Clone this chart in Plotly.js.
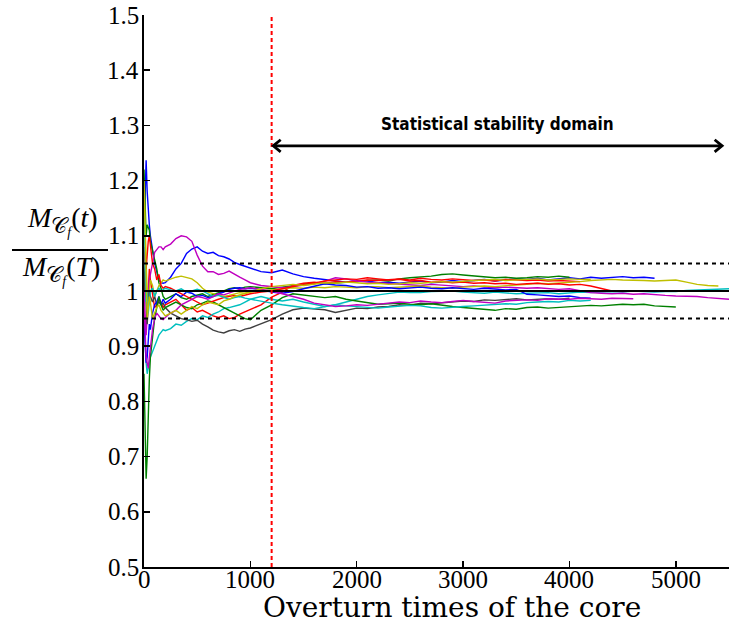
<!DOCTYPE html>
<html><head><meta charset="utf-8">
<script src="https://cdn.plot.ly/plotly-3.0.1.min.js"></script>
<style>html,body{margin:0;padding:0;background:#fff}#chart{width:732px;height:623px}</style>
</head><body><div id="chart"></div>
<script>
// shared time grid (overturn times of the core)
const t = [0,10,20,30,40,50,60,80,100,120,140,160,180,200,250,300,350,400,450,500,550,600,650,700,750,800,850,900,950,1000,
  1100,1200,1300,1400,1500,1600,1700,1800,1900,2000,2100,2200,2300,2400,2500,2600,2700,2800,2900,3000,
  3100,3200,3300,3400,3500,3600,3700,3800,3900,4000,4100,4200,4300,4400,4500,4600,4700,4800,4900,5000,
  5100,5200,5300,5400,5500];

const blueA = [1.10,1.20,1.237,1.18,1.14,1.12,1.10,1.07,1.05,1.035,1.02,1.015,1.014,1.015,1.025,1.04,1.05,1.068,1.076,1.08,1.072,1.068,1.07,1.064,1.062,1.058,1.052,1.048,1.045,1.042,
  1.035,1.033,1.038,1.031,1.026,1.023,1.021,1.019,1.016,1.019,1.018,1.015,1.016,1.014,1.016,1.018,1.015,1.016,1.019,1.017,
  1.019,1.021,1.018,1.02,1.022,1.021,1.023,1.02,1.022,1.024,1.022,1.025,1.023,1.024,1.026,1.024,1.025,1.023];
const blueB = [0.95,0.90,0.87,0.88,0.92,0.94,0.93,0.96,0.975,0.98,0.99,0.975,0.985,0.978,0.985,0.995,0.99,0.998,0.996,0.99,0.992,0.988,0.99,0.995,0.998,1.003,1.005,1.006,1.004,1.005,
  1.002,0.998,0.996,0.999,1.004,1.009,1.013,1.011,1.01,1.007,1.008,1.005,1.006,1.004,1.006,1.007,1.005,1.004,1.006,1.004,
  1.003,1.005,1.004,1.002,1.003,0.994,0.993,0.991,0.99,0.991,0.988,0.987];
const greenA = [1.22,1.15,1.10,1.12,1.115,1.11,1.09,1.075,1.06,1.04,1.015,1.005,0.99,0.985,0.99,0.995,0.988,0.985,0.99,0.992,0.995,0.99,0.993,0.996,1.0,1.004,1.006,1.004,1.007,1.008,
  1.006,1.004,1.007,1.01,1.012,1.015,1.013,1.014,1.016,1.017,1.019,1.02,1.018,1.022,1.024,1.025,1.027,1.03,1.031,1.029,
  1.027,1.026,1.024,1.025,1.023,1.024,1.026,1.025,1.027,1.025];
const greenB = [0.85,0.75,0.66,0.70,0.78,0.84,0.88,0.92,0.95,0.97,0.99,0.975,0.965,0.97,0.975,0.98,0.975,0.97,0.968,0.975,0.978,0.982,0.98,0.975,0.97,0.965,0.96,0.955,0.95,0.948,
  0.965,0.975,0.988,0.995,0.993,0.99,0.988,0.99,0.985,0.982,0.979,0.976,0.977,0.978,0.976,0.975,0.977,0.974,0.972,0.97,
  0.968,0.966,0.965,0.968,0.967,0.97,0.971,0.969,0.97,0.972,0.973,0.974,0.973,0.975,0.976,0.975,0.976,0.973,0.972,0.971];
const redA = [0.98,1.03,1.0,0.97,1.0,1.04,1.02,0.99,0.97,0.975,0.985,0.98,0.97,0.975,0.98,0.985,0.975,0.965,0.97,0.962,0.965,0.96,0.955,0.952,0.955,0.95,0.952,0.958,0.962,0.966,
  0.975,0.989,0.998,1.01,1.014,1.016,1.014,1.017,1.016,1.018,1.02,1.019,1.021,1.022,1.02,1.023,1.021,1.02,1.022,1.021,
  1.019,1.02,1.018,1.021,1.02,1.019,1.02,1.018,1.019,1.018,1.017];
const redB = [1.05,1.08,1.04,1.07,1.09,1.10,1.085,1.05,1.04,1.02,1.03,1.01,1.005,1.008,1.005,1.0,0.995,0.99,0.985,0.98,0.975,0.978,0.982,0.985,0.988,0.99,0.992,0.99,0.993,0.995,
  0.998,1.0,1.004,1.008,1.012,1.014,1.018,1.02,1.022,1.021,1.024,1.022,1.02,1.021,1.018,1.019,1.016,1.017,1.015,1.016,
  1.014,1.015,1.013,1.014,1.012,1.013,1.014,1.012,1.013,1.011,1.012,1.009,1.004,1.0];
const cyanA = [0.95,0.90,0.87,0.85,0.86,0.87,0.88,0.89,0.90,0.91,0.92,0.925,0.93,0.928,0.932,0.94,0.938,0.945,0.95,0.948,0.955,0.952,0.958,0.962,0.968,0.97,0.972,0.975,0.98,0.985,
  0.99,0.985,0.982,0.985,0.98,0.976,0.972,0.975,0.98,0.985,0.99,0.993,0.996,0.998,0.997,0.997,0.999,0.999,1.0,0.998,
  0.997,0.996,0.998,0.997,0.995,0.996,0.997,0.997,0.995,0.996,0.998,0.997,0.998,0.999,0.998,1.0,0.999,0.998,0.999,0.999,
  1.001,1.002,1.003,1.004,1.004];
const cyanB = [1.15,1.05,0.98,1.0,0.96,0.98,1.0,1.005,0.99,1.0,1.005,1.0,1.003,1.005,1.002,1.0,1.004,0.998,1.0,1.003,1.0,0.995,0.99,0.992,0.988,0.985,0.988,0.99,0.987,0.985,
  0.982,0.978,0.975,0.972,0.97,0.968,0.971,0.975,0.973,0.972,0.97,0.969,0.971,0.972,0.974,0.973,0.97,0.969,0.971,0.972,
  0.973,0.974,0.976,0.977,0.976,0.979,0.98,0.981,0.98,0.983,0.982,0.983];
const magentaA = [1.0,0.95,0.92,0.96,1.0,1.02,1.03,1.05,1.07,1.075,1.08,1.08,1.075,1.08,1.085,1.095,1.10,1.098,1.09,1.065,1.045,1.035,1.035,1.03,1.032,1.036,1.03,1.025,1.02,1.015,
  1.01,1.008,1.006,1.008,1.01,1.013,1.018,1.024,1.022,1.018,1.016,1.015,1.013,1.012,1.011,1.01,1.012,1.011,1.009,1.008,
  1.009,1.007,1.006,1.007,1.006,1.005,1.006,1.005,1.003,1.004,1.001,0.997,0.996,0.995,0.996,0.994,0.995,0.993,0.992,0.991,
  0.991,0.99,0.988,0.987,0.985];
const magentaB = [0.98,0.93,0.88,0.87,0.86,0.88,0.90,0.93,0.95,0.96,0.955,0.95,0.948,0.952,0.96,0.965,0.975,0.98,0.985,0.99,0.988,0.985,0.99,0.995,0.993,0.996,1.0,1.003,1.004,1.006,
  1.003,1.0,0.995,0.99,0.985,0.978,0.975,0.972,0.973,0.975,0.974,0.976,0.978,0.98,0.979,0.982,0.98,0.979,0.981,0.983,
  0.981,0.98,0.978,0.982,0.983,0.984,0.983,0.986,0.985,0.985,0.987,0.986,0.985,0.987,0.986,0.986];
const yellowA = [1.18,1.10,1.05,1.0,0.97,1.0,1.02,1.01,0.99,1.0,1.01,1.015,1.02,1.018,1.022,1.025,1.027,1.025,1.022,1.015,1.005,0.998,0.995,0.993,0.99,0.992,0.995,0.997,0.996,0.998,
  1.0,1.002,1.005,1.006,1.005,1.007,1.006,1.008,1.007,1.006,1.008,1.008,1.006,1.007,1.008,1.009,1.007,1.006,1.005,1.007,
  1.008,1.009,1.008,1.01,1.011,1.012,1.014,1.013,1.014,1.016,1.017,1.019,1.02,1.021,1.02,1.02,1.019,1.018,1.019,1.02,
  1.016,1.012,1.01,1.009];
const yellowB = [1.20,1.12,1.0,0.95,0.97,0.99,0.98,0.95,0.96,0.97,0.975,0.965,0.96,0.955,0.96,0.965,0.958,0.965,0.972,0.968,0.975,0.98,0.978,0.975,0.982,0.985,0.99,0.993,0.995,0.998,
  1.004,1.008,1.01,1.012,1.01,1.012,1.015,1.014,1.016,1.015,1.013,1.014,1.012,1.013,1.015,1.014,1.016,1.017,1.016,1.018,
  1.019,1.02,1.021,1.019,1.02,1.021,1.022,1.02,1.021,1.022,1.021,1.021];
const grayA = [1.0,1.05,0.98,0.94,0.97,1.0,0.99,0.98,0.99,0.975,0.98,0.975,0.978,0.97,0.96,0.955,0.95,0.948,0.945,0.947,0.94,0.935,0.929,0.926,0.924,0.928,0.93,0.927,0.931,0.933,
  0.94,0.948,0.958,0.966,0.969,0.967,0.966,0.961,0.965,0.969,0.968,0.971,0.972,0.975,0.974,0.978,0.977,0.979,0.98,0.982,
  0.981,0.984,0.983,0.985,0.986,0.984,0.985,0.986,0.985,0.987];

const series = [
  [blueA,'#0000ff'],[greenA,'#008000'],[redA,'#ff0000'],[cyanA,'#00bfbf'],[magentaA,'#bf00bf'],[yellowA,'#bfbf00'],[grayA,'#404040'],
  [blueB,'#0000ff'],[greenB,'#008000'],[redB,'#ff0000'],[cyanB,'#00bfbf'],[magentaB,'#bf00bf'],[yellowB,'#bfbf00']
];

const xMax = 5500;
const stableStart = 1200;
const arrowEnd = 5450;
const arrowY = 1.263;
const refLevel = 1, upperBand = 1.05, lowerBand = 0.95;
const xTicks = [0,1000,2000,3000,4000,5000];
const xTickText = ['0','1000','2000','3000','4000','5000'];
const yTicks = [0.5,0.6,0.7,0.8,0.9,1,1.1,1.2,1.3,1.4,1.5];
const yTickText = ['0.5','0.6','0.7','0.8','0.9','1','1.1','1.2','1.3','1.4','1.5'];

const traces = series.map(([v,c]) => ({
  type:'scatter', mode:'lines', x:t.slice(0,v.length), y:v,
  line:{color:c,width:1.4}, hoverinfo:'skip', showlegend:false
}));

const L=144, R=3, T=15, B=56, W=732, H=623;
const pw = W-L-R, ph = H-T-B;
const px = p => (p-L)/pw;        // pixel -> paper x
const py = p => 1-(p-T)/ph;      // pixel -> paper y

const shapes = [
  {type:'line',xref:'x',yref:'y',x0:0,x1:xMax,y0:refLevel,y1:refLevel,line:{color:'#000',width:2}},
  {type:'line',xref:'x',yref:'y',x0:0,x1:xMax,y0:upperBand,y1:upperBand,line:{color:'#000',width:2,dash:'4px,4px'}},
  {type:'line',xref:'x',yref:'y',x0:0,x1:xMax,y0:lowerBand,y1:lowerBand,line:{color:'#000',width:2,dash:'4px,4px'}},
  {type:'line',xref:'x',yref:'paper',x0:stableStart,x1:stableStart,y0:0,y1:1,line:{color:'#ff0000',width:2,dash:'4px,3px'}},
  {type:'line',xref:'x',yref:'y',x0:stableStart+20,x1:arrowEnd-20,y0:arrowY,y1:arrowY,line:{color:'#000',width:2.8}},
  {type:'path',xref:'x',yref:'y',path:`M ${stableStart+85},${arrowY+0.011} L ${stableStart+15},${arrowY} L ${stableStart+85},${arrowY-0.011}`,line:{color:'#000',width:2.8}},
  {type:'path',xref:'x',yref:'y',path:`M ${arrowEnd-85},${arrowY+0.011} L ${arrowEnd-15},${arrowY} L ${arrowEnd-85},${arrowY-0.011}`,line:{color:'#000',width:2.8}},
  // fraction bar of y label
  {type:'line',xref:'paper',yref:'paper',x0:px(12),x1:px(108),y0:py(250),y1:py(250),line:{color:'#000',width:2}}
];

const serif = 'Liberation Serif';
const tickFont = {family:serif,size:25,color:'#000'};
const annotations = [
  {xref:'x',yref:'y',x:(stableStart+arrowEnd)/2,y:1.302,xanchor:'center',yanchor:'middle',text:'<b>Statistical stability domain</b>',showarrow:false,
   font:{family:'DejaVu Sans Condensed, sans-serif',size:17,color:'#000'}},
  {xref:'paper',yref:'paper',x:px(62),y:py(221),xanchor:'center',yanchor:'middle',text:'<i>M</i><sub><span style="font-size:22px">𝒞</span><sub><i>f</i></sub></sub>(<i>t</i>)',showarrow:false,
   font:{family:serif,size:28,color:'#000'}},
  {xref:'paper',yref:'paper',x:px(61),y:py(270),xanchor:'center',yanchor:'middle',text:'<i>M</i><sub><span style="font-size:22px">𝒞</span><sub><i>f</i></sub></sub>(<i>T</i>)',showarrow:false,
   font:{family:serif,size:28,color:'#000'}},
  {xref:'paper',yref:'paper',x:px(452),y:py(607),xanchor:'center',yanchor:'middle',text:'Overturn times of the core',showarrow:false,
   font:{family:'DejaVu Serif',size:28,color:'#000'}}
];
// tick labels drawn at the axes' own data positions
xTicks.forEach((v,i) => annotations.push({xref:'x',yref:'paper',x:v,y:py(579),xanchor:'center',yanchor:'middle',
  text:xTickText[i],showarrow:false,font:tickFont}));
yTicks.forEach((v,i) => annotations.push({xref:'paper',yref:'y',x:px(141),y:v,xanchor:'right',yanchor:'middle',
  text:yTickText[i],showarrow:false,font:tickFont}));

const layout = {
  width:W, height:H, margin:{l:L,r:R,t:T,b:B}, paper_bgcolor:'#fff', plot_bgcolor:'#fff',
  font:{family:serif,size:25,color:'#000'},
  showlegend:false,
  xaxis:{range:[0,xMax], tickvals:xTicks, showticklabels:false, ticks:'inside', ticklen:6, tickwidth:1.5, tickcolor:'#000',
    showline:true, linecolor:'#000', linewidth:2, showgrid:false, zeroline:false, mirror:false},
  yaxis:{range:[0.5,1.5], tickvals:yTicks, showticklabels:false, ticks:'inside', ticklen:6, tickwidth:1.5, tickcolor:'#000',
    showline:true, linecolor:'#000', linewidth:2, showgrid:false, zeroline:false},
  shapes, annotations
};

Plotly.newPlot('chart', traces, layout, {displayModeBar:false, staticPlot:true});
</script></body></html>
